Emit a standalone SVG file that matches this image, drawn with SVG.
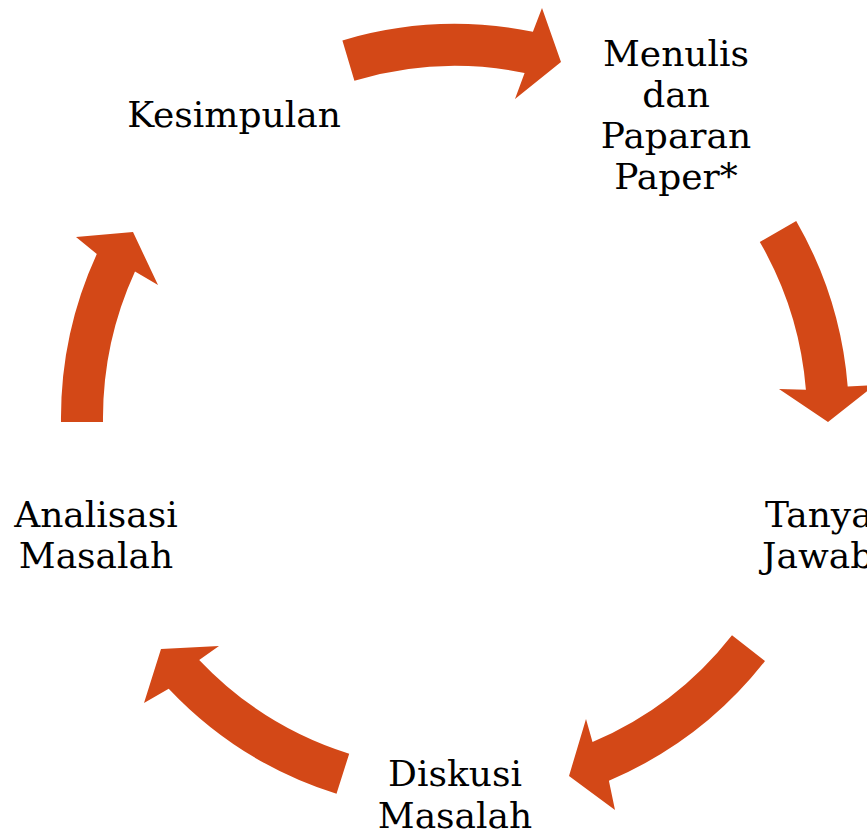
<svg xmlns="http://www.w3.org/2000/svg" width="867" height="833" viewBox="0 0 867 833">
<style>
.arrow{fill:#D34817;stroke:none}
.lbl{font-family:"DejaVu Serif","Liberation Serif",serif;font-size:36px;fill:#000;text-anchor:middle}
.st{text-anchor:start}
</style>
<rect width="867" height="833" fill="#fff"/>
<g id="connectors">
<path class="arrow" d="M342.4,40.4 A394,394 0 0 1 532.9,31.8 L542,8 L561,62 L515,99 L524.6,72.9 A352,352 0 0 0 354.4,80.7 Z"/>
<path class="arrow" d="M796.2,221 A394,394 0 0 1 847.7,386.4 L875,385 L828,422 L779,389 L805.9,389.8 A352,352 0 0 0 759.8,242 Z"/>
<path class="arrow" d="M765,661.1 A394,394 0 0 1 608.9,780.7 L615,810 L569,776 L586,719 L592.5,742 A352,352 0 0 0 732,635.2 Z"/>
<path class="arrow" d="M336.5,793.8 A394,394 0 0 1 168.7,688.7 L144,703 L161,649 L219,646 L199.2,659.9 A352,352 0 0 0 349.2,753.7 Z"/>
<path class="arrow" d="M61,422 A394,394 0 0 1 96.8,254 L76,237 L133,232 L158,285 L135,271.5 A352,352 0 0 0 103,422 Z"/>
</g>
<g id="node-menulis">
<text class="lbl" x="676" y="66">Menulis</text>
<text class="lbl" x="676" y="107">dan</text>
<text class="lbl" x="676" y="148">Paparan</text>
<text class="lbl" x="676" y="189">Paper*</text>
</g>
<g id="node-tanya">
<text class="lbl st" x="765" y="527">Tanya</text>
<text class="lbl st" x="762" y="568">Jawab</text>
</g>
<g id="node-diskusi">
<text class="lbl" x="455" y="786">Diskusi</text>
<text class="lbl" x="455" y="828">Masalah</text>
</g>
<g id="node-analisasi">
<text class="lbl" x="96" y="527">Analisasi</text>
<text class="lbl" x="96" y="568">Masalah</text>
</g>
<g id="node-kesimpulan">
<text class="lbl" x="234" y="127">Kesimpulan</text>
</g>
</svg>
